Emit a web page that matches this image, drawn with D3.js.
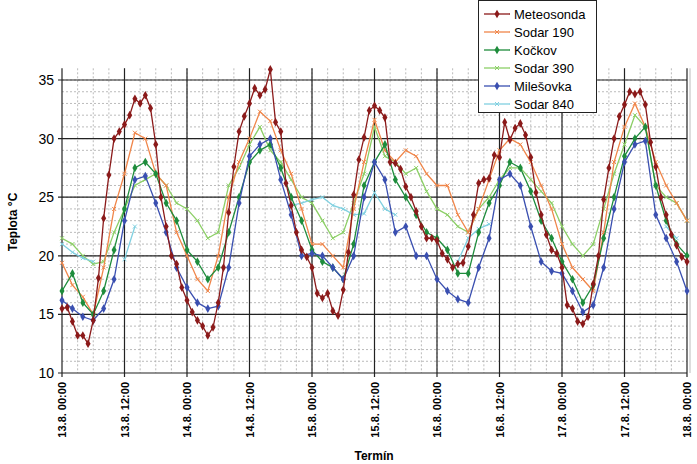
<!DOCTYPE html>
<html><head><meta charset="utf-8">
<script src="https://cdn.jsdelivr.net/npm/d3@7"></script>
<style>body{margin:0;background:#fff}svg{font-family:Arial,"Liberation Sans",sans-serif}</style>
</head><body><svg id="c" width="697" height="464"></svg>
<script>
const xTickLabels=["13.8. 00:00","13.8. 12:00","14.8. 00:00","14.8. 12:00","15.8. 00:00","15.8. 12:00","16.8. 00:00","16.8. 12:00","17.8. 00:00","17.8. 12:00","18.8. 00:00"];
const yTicks=[10,15,20,25,30,35];
// hourly, h = 0..120
const meteosonda=[15.5,15.6,14.4,13.2,13.2,12.5,14.5,18.1,23.2,26.9,30,30.6,31.2,32,33.4,33,33.7,32.6,29.5,25,22.5,20,19.3,17.3,16.2,15.2,14.5,14,13.2,13.9,16,19,23.7,27.6,30.6,31.9,33,34.3,33.7,34.2,35.9,31.4,30.6,26.2,24.3,22,20.5,19.9,19,16.8,16.4,16.8,15.3,14.9,17.1,20.3,25.2,28.2,30.1,32.4,32.8,32.4,31.8,28,27.9,27.4,25.9,25,23.8,22.5,21.5,21.5,21.3,20.2,19.7,19,19.3,19.4,20.8,23.5,26.2,26.5,26.6,28.6,28.4,31.4,29.9,30.9,31.3,30.3,28.4,25.4,23.5,21.8,20.5,20.2,19,15.8,15.5,14.4,14.2,14.8,17.6,20,24.8,27.5,30,31.9,32.9,34,33.8,34,32.9,29.7,27.6,25,23.5,21.8,20.9,19.9,19.5];
// 2-hourly, h = 0,2,...,120
const sodar190=[19.4,17.5,16.5,15,19,24,27,30.5,30,27,26,22,20,18,17,20,25,28,30,32.3,31.5,29,27,24,21,21,20,19,24,28,31.6,29,28,29,28.5,27,26,26,23.5,22,24,26.5,29,30,29.5,28,26,24,21,19,18,17,22,28,31,33,31,28,26,24.5,23];
const kockov=[17,18.5,16,15,17,20.5,24,27.5,28,27,24.5,23,20.5,19.5,18,19,22,25,28,29,29.5,27.5,25,23,20.5,19.5,19,18,21,26,28,29.5,26.5,25,23.5,22,21.5,20.5,18.5,18.5,22,24.5,26,28,27.5,25.5,23,21.5,19.5,18,16,17.5,21.5,25,28.5,30,31,26,23,21,20];
const sodar390=[21.5,21,20,19.3,19.5,22,24,26,26.5,27,26,24.5,24,23,21.5,22,26,27.5,29.5,31,29,28,26.5,25,24.5,23,21.5,22,24.5,27,31,28.5,28,27,27.5,25.5,24,23.5,22.5,22,24,25,26.5,27.5,27.5,26.5,25.5,24.5,22.5,21,20,21,24,27,29.5,32,31,26,25,24.5,23];
const milesovka=[16.2,15.5,14.8,14.5,15.5,18,23,26.5,26.8,24.5,22,19,17.3,16,15.5,15.7,19,24.5,28.5,29.5,30,26.5,23.5,20,20.2,20,19,18,20,25,28,26.5,22,22.5,20,20,18,17,16.3,16,19,21.5,26.5,27,26,22.5,19.5,18.7,18.5,17,15.2,15.8,19,24,28,29.5,29.8,23.5,21.5,19.5,17];
const N=null;
const sodar840=[21,20.3,19.8,19.5,N,N,19.7,22.5,N,N,N,N,N,N,N,N,22,N,N,N,N,N,24.3,24.5,24.8,25,24.3,24,23.5,23.6,25.4,24,23.5,N,N,N,N,N,19.5,21.5,22.3,22.7,N,N,N,N,N,N,N,N,N,N,22,N,N,N,N,N,22.5,21.5,N];

const svg=d3.select("#c");
const L=62,R=687,T=68.3,B=373;
const x=d3.scaleLinear().domain([0,120]).range([L,R]);
const y=d3.scaleLinear().domain([10,36]).range([B,T]);
const g=svg.append("g");
// minor grid
g.selectAll(".mh").data(d3.range(11,36)).join("line").attr("x1",L).attr("x2",R).attr("y1",d=>y(d)).attr("y2",d=>y(d)).attr("stroke","#aaa").attr("stroke-dasharray","2,2").attr("stroke-width",0.8);
g.selectAll(".mv").data(d3.range(3,120,3)).join("line").attr("y1",T).attr("y2",B).attr("x1",d=>x(d)).attr("x2",d=>x(d)).attr("stroke","#aaa").attr("stroke-dasharray","2,2").attr("stroke-width",0.8);
// major grid
g.selectAll(".Mh").data(yTicks).join("line").attr("x1",L-4).attr("x2",R).attr("y1",d=>y(d)).attr("y2",d=>y(d)).attr("stroke","#222").attr("stroke-width",1.2);
g.selectAll(".Mv").data(d3.range(0,121,12)).join("line").attr("y1",T).attr("y2",B+4).attr("x1",d=>x(d)).attr("x2",d=>x(d)).attr("stroke","#222").attr("stroke-width",1.2);
g.append("line").attr("x1",R+3).attr("x2",R+3).attr("y1",T).attr("y2",B).attr("stroke","#bbb");
// y labels
g.selectAll(".yl").data(yTicks).join("text").attr("x",L-8).attr("y",d=>y(d)+5).attr("text-anchor","end").attr("font-size",14).text(d=>d);
// x labels
g.selectAll(".xl").data(xTickLabels).join("text").attr("transform",(d,i)=>`translate(${x(i*12)+4},382) rotate(-90)`).attr("text-anchor","end").attr("font-size",11).attr("font-weight","bold").text(d=>d);
svg.append("text").attr("x",374).attr("y",460).attr("text-anchor","middle").attr("font-size",12).attr("font-weight","bold").text("Termín");
svg.append("text").attr("transform","translate(17,222) rotate(-90)").attr("text-anchor","middle").attr("font-size",12).attr("font-weight","bold").text("Teplota °C");

const series=[
 {name:"Meteosonda",data:meteosonda,step:1,color:"#8B1A1A",m:"d"},
 {name:"Sodar 190",data:sodar190,step:2,color:"#F0864A",m:"x"},
 {name:"Kočkov",data:kockov,step:2,color:"#1E8C3C",m:"d"},
 {name:"Sodar 390",data:sodar390,step:2,color:"#8CCF66",m:"x"},
 {name:"Milešovka",data:milesovka,step:2,color:"#3A4FB0",m:"d"},
 {name:"Sodar 840",data:sodar840,step:2,color:"#80D0E0",m:"x"}
];
const dia=d3.symbol().type(d3.symbolDiamond).size(22);
function marker(sel,s,px,py){
  if(s.m==="d") sel.append("path").attr("d",dia).attr("transform",`translate(${px},${py})`).attr("fill",s.color);
  else sel.append("path").attr("d",`M${px-2},${py-2}L${px+2},${py+2}M${px-2},${py+2}L${px+2},${py-2}`).attr("stroke",s.color).attr("stroke-width",1);
}
const drawOrder=[3,5,1,2,4,0];
drawOrder.forEach(k=>{
  const s=series[k];
  const pts=s.data.map((v,i)=>({h:i*s.step,v}));
  const line=d3.line().defined(d=>d.v!=null).x(d=>x(d.h)).y(d=>y(d.v));
  g.append("path").datum(pts).attr("d",line).attr("fill","none").attr("stroke",s.color).attr("stroke-width",1.3);
  const mg=g.append("g");
  pts.filter(d=>d.v!=null).forEach(d=>marker(mg,s,x(d.h),y(d.v)));
});
// legend
const lg=svg.append("g");
lg.append("rect").attr("x",478.5).attr("y",0.5).attr("width",118).attr("height",112).attr("fill","#fff").attr("stroke","#222");
series.forEach((s,i)=>{
  const yy=14+i*18;
  lg.append("line").attr("x1",484).attr("x2",510).attr("y1",yy).attr("y2",yy).attr("stroke",s.color).attr("stroke-width",1.3);
  marker(lg,s,497,yy);
  lg.append("text").attr("x",514).attr("y",yy+5).attr("font-size",13).text(s.name);
});
</script></body></html>
